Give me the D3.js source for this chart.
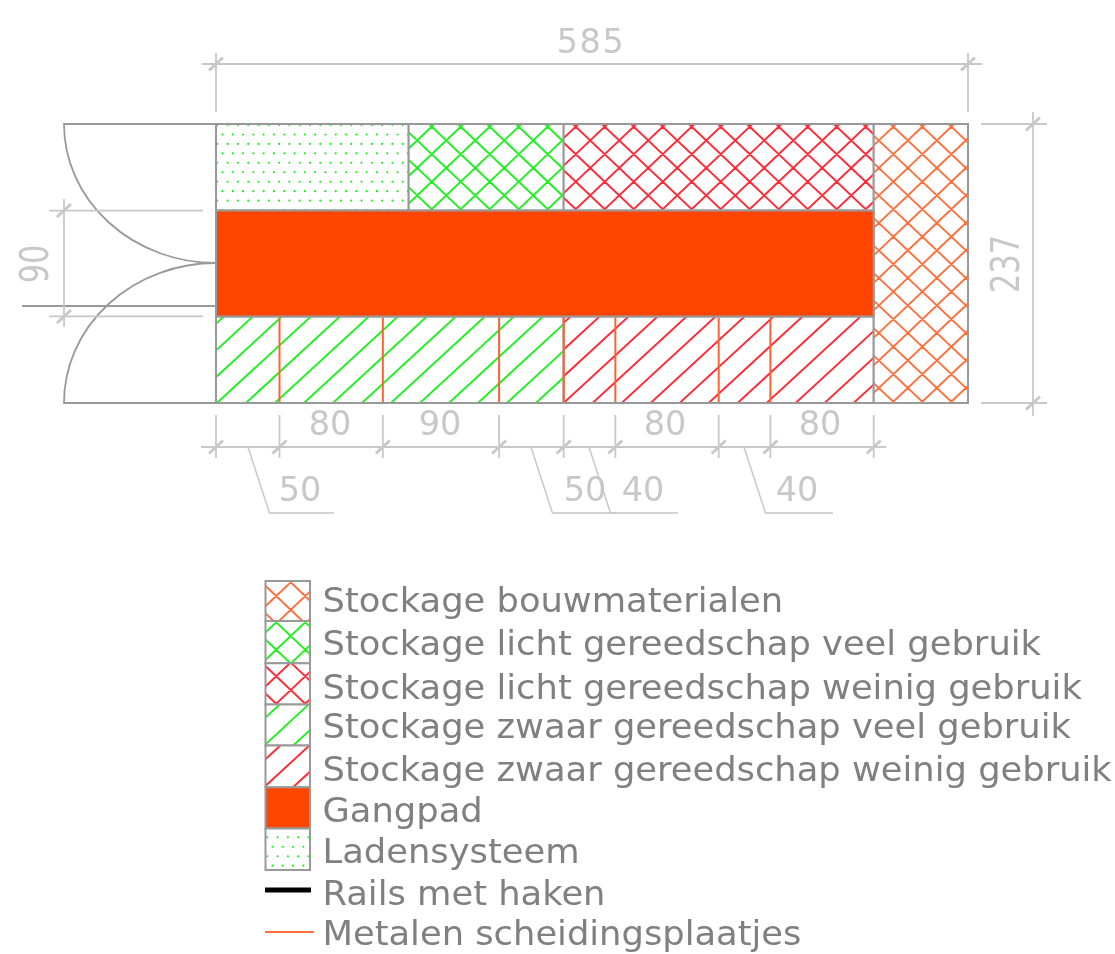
<!DOCTYPE html>
<html><head><meta charset="utf-8">
<script src="https://cdn.jsdelivr.net/npm/d3@7"></script>
<style>html,body{margin:0;padding:0;background:#fff}svg{display:block;filter:blur(0.55px)}text{font-family:"DejaVu Sans",sans-serif}</style>
</head><body><svg id="c" width="1115" height="954"></svg>
<script>
// ---- data (centimetres) ----
const totalWidth = 585, totalDepth = 237, aisleDepth = 90;
const dividerWidths = [50, 80, 90, 50, 40, 80, 40, 80];
const topRow = [
  {name:"Ladensysteem", from:0, to:150},
  {name:"Stockage licht gereedschap veel gebruik", from:150, to:270},
  {name:"Stockage licht gereedschap weinig gebruik", from:270, to:510}
];
const bottomRow = [
  {name:"Stockage zwaar gereedschap veel gebruik", from:0, to:270},
  {name:"Stockage zwaar gereedschap weinig gebruik", from:270, to:510}
];
const sideBlock = {name:"Stockage bouwmaterialen", from:510, to:585};
const aisle = {name:"Gangpad", from:0, to:510};
const legendLabels = ["Stockage bouwmaterialen","Stockage licht gereedschap veel gebruik","Stockage licht gereedschap weinig gebruik","Stockage zwaar gereedschap veel gebruik","Stockage zwaar gereedschap weinig gebruik","Gangpad","Ladensysteem","Rails met haken","Metalen scheidingsplaatjes"];

// ---- scales ----
const x = d3.scaleLinear().domain([0,50,510,585]).range([216,279.5,873.7,968]);
const y = d3.scaleLinear().domain([0,237]).range([124,403]);
const svg = d3.select("#c");
const defs = svg.append("defs");
const W=29,HC=27.5,HH=26.7,DX=10.3,DY=9.45;
const ORANGE="#ff6f3c",GREEN="#1ff01f",RED="#ff2a35",OUT="#999999",DIM="#c8c8c8",PLATE="#ff6232",TXT="#808080",DOT="#12f012";

// fill styles: kind, colour and the phase of the texture in the plan and in the legend
const styles={
 "Stockage bouwmaterialen":{kind:"cross",color:ORANGE,plan:[893.3,126.7],key:[290.7,582.3]},
 "Stockage licht gereedschap veel gebruik":{kind:"cross",color:GREEN,plan:[431.7,126.7],key:[290.7,636]},
 "Stockage licht gereedschap weinig gebruik":{kind:"cross",color:RED,plan:[575.7,126.7],key:[290.7,690]},
 "Stockage zwaar gereedschap veel gebruik":{kind:"hatch",color:GREEN,plan:[218.3,401.7],key:[268.3,741.7]},
 "Stockage zwaar gereedschap weinig gebruik":{kind:"hatch",color:RED,plan:[565,401.7],key:[268.3,783.3]},
 "Gangpad":{kind:"solid",color:"#ff4500"},
 "Ladensysteem":{kind:"dots",color:DOT,plan:[217.3,125],key:[267.3,837.3]}
};
let clipId=0;
function filled(px,py,pw,ph,style,phase){
  svg.append("rect").attr("x",px).attr("y",py).attr("width",pw).attr("height",ph)
    .attr("fill",style.kind==="solid"?style.color:"#fff");
  if(style.kind!=="solid"){
    const id="clip"+(clipId++);
    defs.append("clipPath").attr("id",id).append("rect").attr("x",px).attr("y",py).attr("width",pw).attr("height",ph);
    const g=svg.append("g").attr("clip-path",`url(#${id})`);
    const [ox,oy]=phase;
    if(style.kind==="dots"){
      const pts=[];
      for(const r of d3.range(Math.floor((py-oy)/DY)-1,Math.ceil((py+ph-oy)/DY)+1)){
        const off=((r%2)+2)%2?DX/2:0;
        for(const c of d3.range(Math.floor((px-ox)/DX)-1,Math.ceil((px+pw-ox)/DX)+1)) pts.push([ox+c*DX+off,oy+r*DY]);
      }
      g.selectAll("circle").data(pts).join("circle").attr("cx",d=>d[0]).attr("cy",d=>d[1]).attr("r",1.05).attr("fill",style.color);
    } else {
      const H=style.kind==="cross"?HC:HH;
      const span=Math.ceil((pw+ph)/Math.min(W,H))+4;
      const ln=[];
      const L=span+2;
      for(const k of d3.range(-span,span+1)){
        // rising lines through (ox+kW, oy)
        const base=Math.round((px-ox)/W);
        const bx=ox+(k+base)*W;
        ln.push(`M${bx-L*W} ${oy+L*H}L${bx+L*W} ${oy-L*H}`);
        if(style.kind==="cross") ln.push(`M${bx-L*W} ${oy-L*H}L${bx+L*W} ${oy+L*H}`);
      }
      g.append("path").attr("d",ln.join("")).attr("fill","none").attr("stroke",style.color).attr("stroke-width",1.9);
    }
  }
  svg.append("rect").attr("x",px).attr("y",py).attr("width",pw).attr("height",ph)
    .attr("fill","none").attr("stroke",OUT).attr("stroke-width",2);
}

// ---- plan ----
const yTopEnd=(totalDepth-aisleDepth)/2, yAisleEnd=yTopEnd+aisleDepth;
function block(d,d0,d1){
  const s=styles[d.name];
  filled(x(d.from),y(d0),x(d.to)-x(d.from),y(d1)-y(d0),s,s.plan);
}
topRow.forEach(d=>block(d,0,yTopEnd));
bottomRow.forEach(d=>block(d,yAisleEnd,totalDepth));
block(sideBlock,0,totalDepth);
block(aisle,yTopEnd,yAisleEnd);

// metal plates
let cum=d3.cumsum(dividerWidths);
svg.selectAll(".plate").data(cum.slice(0,-1)).join("line").attr("class","plate")
  .attr("x1",d=>x(d)).attr("x2",d=>x(d)).attr("y1",y(yAisleEnd)+1).attr("y2",y(totalDepth)-1)
  .attr("stroke",PLATE).attr("stroke-width",2);

// doors
const xL=64, yT=y(0), yB=y(totalDepth), yM=263, x0=x(0);
const outline=(d,w=1.8)=>svg.append("path").attr("d",d).attr("fill","none").attr("stroke",OUT).attr("stroke-width",w);
outline(`M${x0} ${yT}H${xL}A${x0-xL} ${yM-yT} 0 0 0 ${x0} ${yM}`);
outline(`M${x0} ${yB}H${xL}A${x0-xL} ${yB-yM} 0 0 1 ${x0} ${yM}`);
outline(`M22 306H${x0}`);

// dimensions
const dim=(d,w=1.8)=>svg.append("path").attr("d",d).attr("fill","none").attr("stroke",DIM).attr("stroke-width",w);
const tick=(cx,cy)=>dim(`M${cx-7} ${cy+6.5}L${cx+7} ${cy-6.5}`,3);
const label=(t,px,py,spacing)=>svg.append("text").text(t).attr("fill",DIM).attr("font-size",33.5)
  .attr("text-anchor","middle").attr("letter-spacing",spacing||0).attr("x",px).attr("y",py);
const vlabel=(t,px,py)=>svg.append("text").text(t).attr("fill",DIM).attr("font-size",32).attr("text-anchor","middle")
  .attr("transform",`translate(${px},${py}) rotate(-90) scale(0.95,1.24)`);

// 585 on top
dim(`M${x(0)-14} 64H${x(totalWidth)+14}`);
[0,totalWidth].forEach(v=>{dim(`M${x(v)} 53V112`);tick(x(v),64);});
label(String(totalWidth),591,52.5,1.5);
// 237 on the right
dim(`M1033 112V416`);
dim(`M981 ${y(0)}H1047M981 ${y(totalDepth)}H1047`);
tick(1033,y(0));tick(1033,y(totalDepth));
vlabel(String(totalDepth),1019,264);
// 90 on the left
dim(`M64 199V327`);
dim(`M49 ${y(yTopEnd)}H203M49 ${y(yAisleEnd)}H203`);
tick(64,y(yTopEnd));tick(64,y(yAisleEnd));
vlabel(String(aisleDepth),48.3,264);
// bottom chain
const chain=[0,...cum];
dim(`M201 447H886`);
chain.forEach(v=>{dim(`M${x(v)} 415V458`);tick(x(v),447);});
const chainLabels=[{i:1,px:330},{i:2,px:440},{i:5,px:665},{i:7,px:820}];
chainLabels.forEach(o=>label(String(dividerWidths[o.i]),o.px,435));
// leader labels
const leaders=[{i:0,a:248,end:334,px:300},{i:3,a:531,end:616,px:585},{i:4,a:589,end:678,px:643},{i:6,a:744,end:833,px:797}];
leaders.forEach(o=>{dim(`M${o.a} 447L${o.a+21.5} 513H${o.end}`,1.5);label(String(dividerWidths[o.i]),o.px,501);});

// ---- legend ----
const rowEdges=[581,621,663.3,704.5,745.5,787.3,828.5,870];
const baselines=[611.5,655,699,738,781,822,863,905,945];
legendLabels.forEach((t,i)=>{
  if(i<7){const s=styles[t];filled(265.5,rowEdges[i],44.5,rowEdges[i+1]-rowEdges[i],s,s.key);}
  svg.append("text").text(t).attr("transform",`translate(322.5,${baselines[i]}) scale(1.07,1)`).attr("fill",TXT).attr("font-size",33);
});
svg.append("line").attr("x1",265).attr("x2",311).attr("y1",890).attr("y2",890).attr("stroke","#000").attr("stroke-width",5);
svg.append("line").attr("x1",265).attr("x2",314).attr("y1",932).attr("y2",932).attr("stroke","#ff7040").attr("stroke-width",1.8);
</script></body></html>
